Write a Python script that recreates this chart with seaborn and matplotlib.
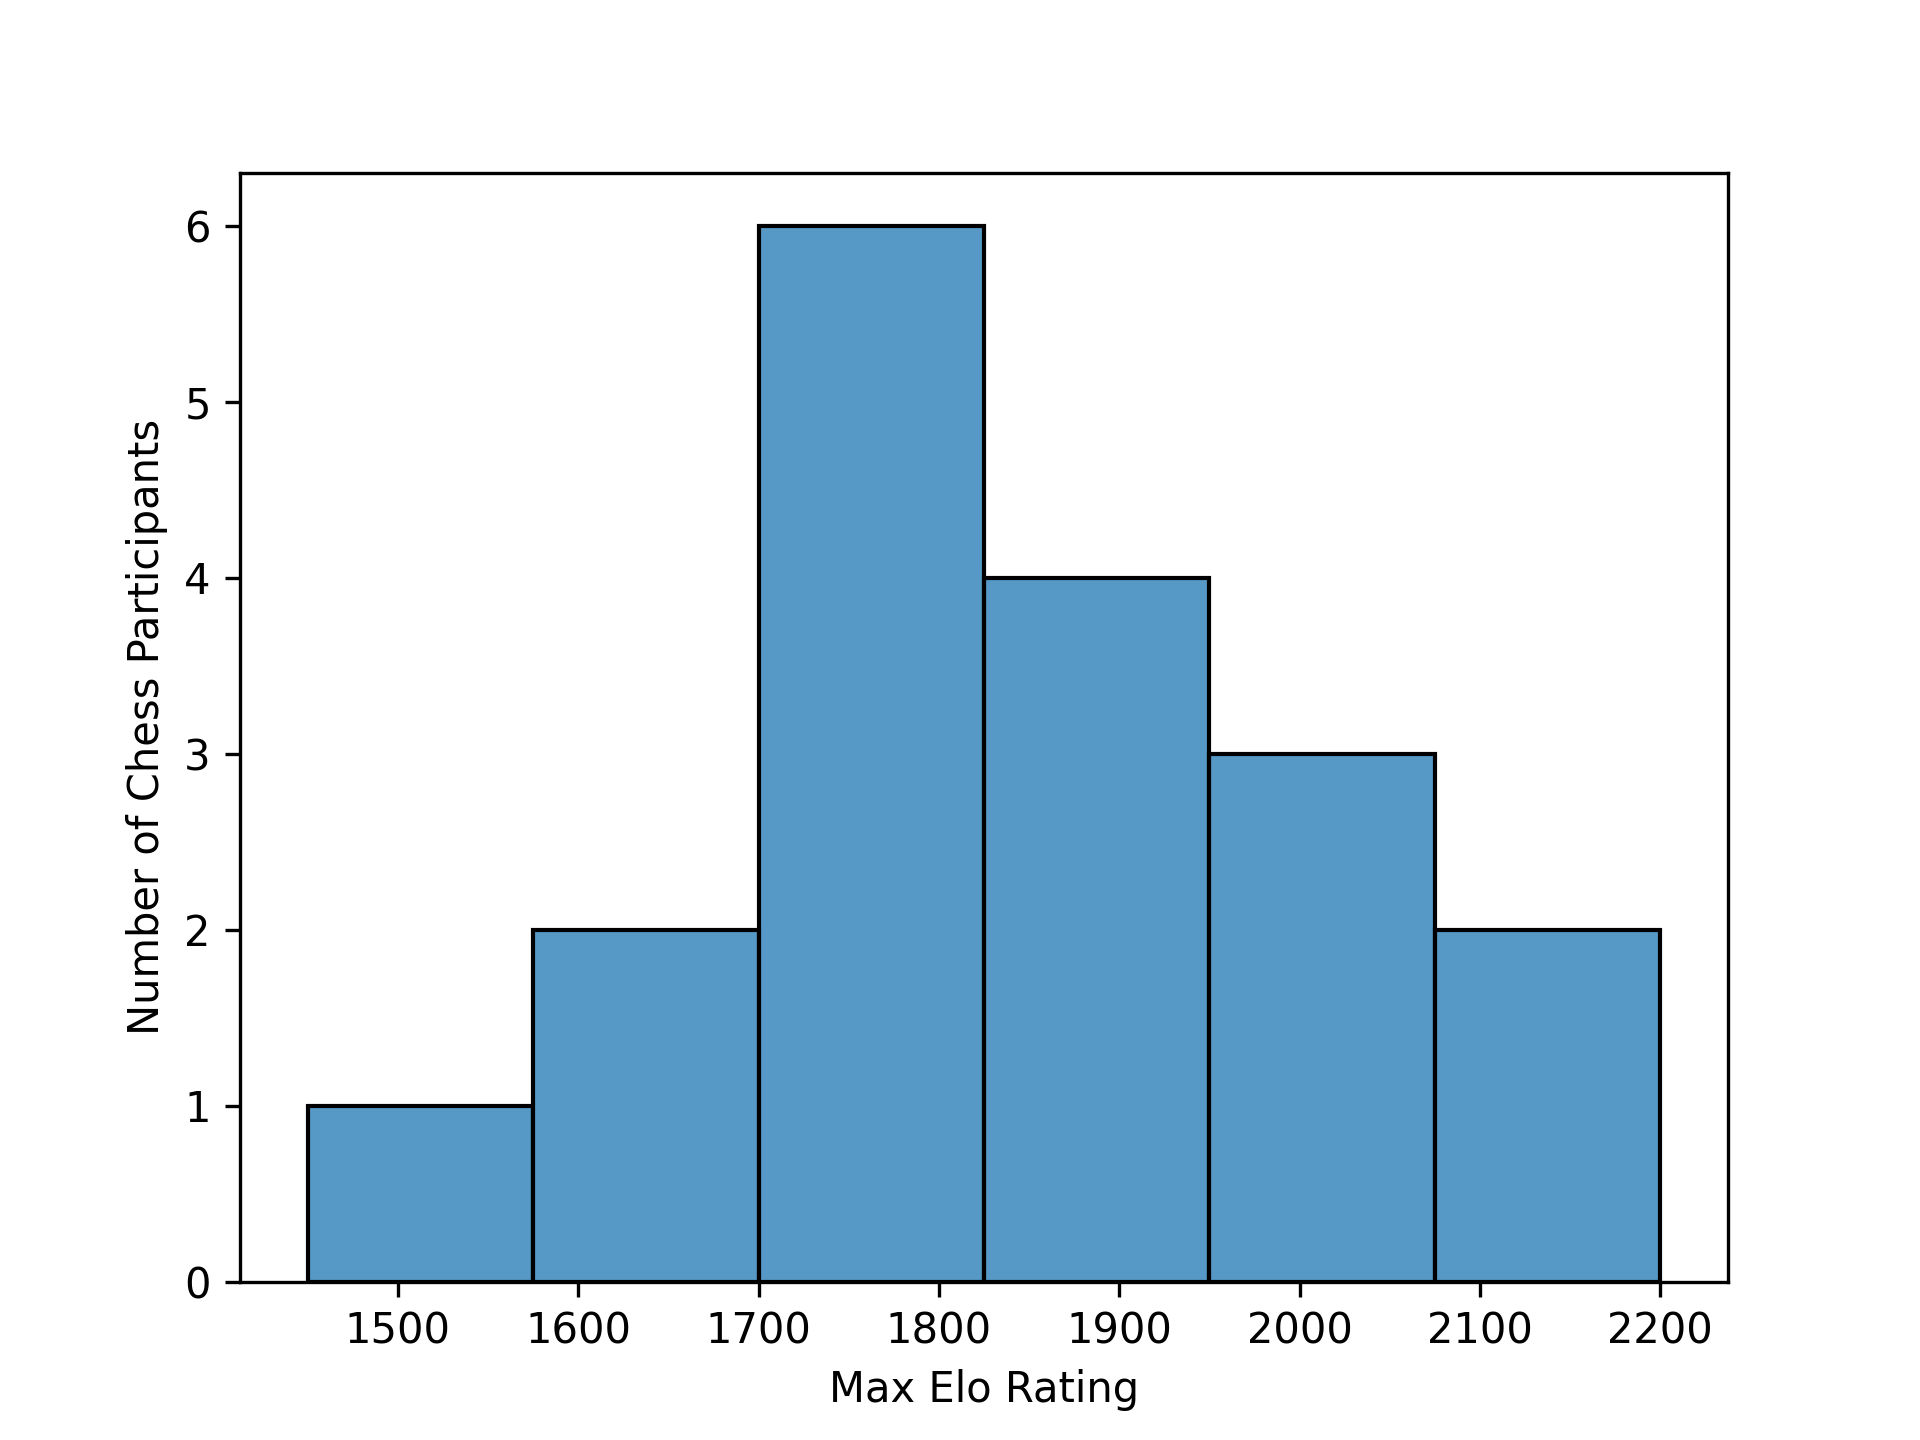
import matplotlib
matplotlib.use("Agg")
import matplotlib.pyplot as plt
import seaborn as sns
import numpy as np

bin_edges = [1450, 1575, 1700, 1825, 1950, 2075, 2200]
counts = [1, 2, 6, 4, 3, 2]
x_label = "Max Elo Rating"
y_label = "Number of Chess Participants"

centers = [(a + b) / 2 for a, b in zip(bin_edges[:-1], bin_edges[1:])]

fig, ax = plt.subplots(figsize=(6.4, 4.8), dpi=300)
sns.histplot(x=centers, weights=counts, bins=bin_edges, ax=ax)
ax.set_xlabel(x_label)
ax.set_ylabel(y_label)
fig.savefig("out.png", dpi=300)
